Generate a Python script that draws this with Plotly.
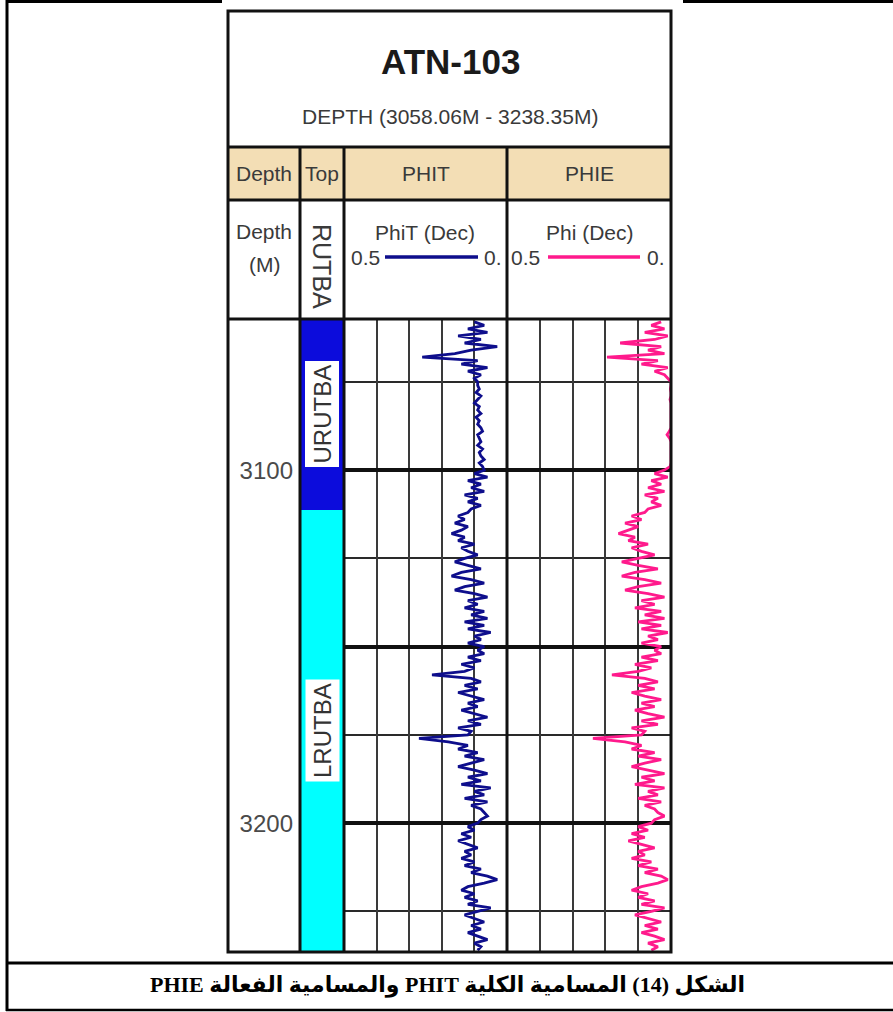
import plotly.graph_objects as go

W, H = 893, 1012


def px(x):
    return x / W


def py(y):
    return 1 - y / H


# ---------------- data ----------------
depth = [
    3058, 3059, 3060, 3061, 3062, 3063, 3064, 3065, 3066, 3067,
    3068, 3069, 3070, 3071, 3072, 3073, 3074, 3075, 3076, 3077,
    3078, 3079, 3080, 3081, 3082, 3083, 3084, 3085, 3086, 3087,
    3088, 3089, 3090, 3091, 3092, 3093, 3094, 3095, 3096, 3097,
    3098, 3099, 3100, 3101, 3102, 3103, 3104, 3105, 3106, 3107,
    3108, 3109, 3110, 3111, 3112, 3113, 3114, 3115, 3116, 3117,
    3118, 3119, 3120, 3121, 3122, 3123, 3124, 3125, 3126, 3127,
    3128, 3129, 3130, 3131, 3132, 3133, 3134, 3135, 3136, 3137,
    3138, 3139, 3140, 3141, 3142, 3143, 3144, 3145, 3146, 3147,
    3148, 3149, 3150, 3151, 3152, 3153, 3154, 3155, 3156, 3157,
    3158, 3159, 3160, 3161, 3162, 3163, 3164, 3165, 3166, 3167,
    3168, 3169, 3170, 3171, 3172, 3173, 3174, 3175, 3176, 3177,
    3178, 3179, 3180, 3181, 3182, 3183, 3184, 3185, 3186, 3187,
    3188, 3189, 3190, 3191, 3192, 3193, 3194, 3195, 3196, 3197,
    3198, 3199, 3200, 3201, 3202, 3203, 3204, 3205, 3206, 3207,
    3208, 3209, 3210, 3211, 3212, 3213, 3214, 3215, 3216, 3217,
    3218, 3219, 3220, 3221, 3222, 3223, 3224, 3225, 3226, 3227,
    3228, 3229, 3230, 3231, 3232, 3233, 3234, 3235, 3236,
]

phit = [
    # 3058-3075
    0.10, 0.07, 0.12, 0.06, 0.15, 0.08, 0.13, 0.03, 0.11, 0.16,
    0.26, 0.09, 0.14, 0.06, 0.12, 0.08, 0.10, 0.09,
    # 3076-3099
    0.09, 0.085, 0.095, 0.08, 0.09, 0.10, 0.085, 0.09, 0.08, 0.095,
    0.085, 0.09, 0.08, 0.075, 0.09, 0.085, 0.08, 0.09, 0.075, 0.085,
    0.08, 0.07, 0.085, 0.075,
    # 3100-3111
    0.07, 0.10, 0.06, 0.12, 0.08, 0.11, 0.07, 0.13, 0.09, 0.12, 0.08, 0.11,
    # 3112-3125
    0.12, 0.15, 0.13, 0.16, 0.12, 0.14, 0.17, 0.13, 0.15, 0.10, 0.14, 0.12,
    0.09, 0.13,
    # 3126-3140
    0.16, 0.12, 0.08, 0.14, 0.17, 0.11, 0.07, 0.13, 0.16, 0.10, 0.06, 0.12,
    0.09, 0.13, 0.07,
    # 3141-3150
    0.11, 0.06, 0.13, 0.07, 0.12, 0.05, 0.10, 0.08, 0.12, 0.07,
    # 3151-3174
    0.09, 0.07, 0.12, 0.08, 0.14, 0.10, 0.13, 0.23, 0.11, 0.08, 0.13, 0.09,
    0.15, 0.11, 0.07, 0.12, 0.09, 0.14, 0.10, 0.06, 0.12, 0.08, 0.15, 0.11,
    # 3175-3176
    0.12, 0.27,
    # 3177-3199
    0.18, 0.12, 0.15, 0.09, 0.13, 0.07, 0.11, 0.15, 0.10, 0.06, 0.12, 0.08,
    0.14, 0.05, 0.10, 0.07, 0.13, 0.06, 0.11, 0.08, 0.07, 0.06, 0.08,
    # 3200-3236
    0.09, 0.12, 0.10, 0.14, 0.11, 0.15, 0.12, 0.09, 0.13, 0.11, 0.14, 0.10,
    0.13, 0.08, 0.11, 0.06, 0.03, 0.07, 0.12, 0.14, 0.10, 0.13, 0.09, 0.12,
    0.05, 0.09, 0.13, 0.10, 0.07, 0.11, 0.08, 0.12, 0.09, 0.06, 0.10, 0.08,
    0.09,
]

phie = [
    # 3058-3075
    0.03, 0.06, 0.02, 0.08, 0.01, 0.05, 0.155, 0.03, 0.07, 0.02,
    0.195, 0.04, 0.09, 0.01, 0.05, 0.02, 0.01, 0.0,
    # 3076-3099
    0.0, 0.002, 0.0, 0.0, 0.003, 0.0, 0.0, 0.0, 0.002, 0.0,
    0.0, 0.0, 0.0, 0.005, 0.012, 0.004, 0.0, 0.0, 0.0, 0.002,
    0.0, 0.0, 0.0, 0.003,
    # 3100-3111
    0.02, 0.05, 0.01, 0.06, 0.03, 0.07, 0.02, 0.08, 0.04, 0.06, 0.03, 0.07,
    # 3112-3125
    0.08, 0.12, 0.09, 0.14, 0.10, 0.13, 0.16, 0.11, 0.13, 0.07, 0.12, 0.09,
    0.05, 0.10,
    # 3126-3140
    0.15, 0.10, 0.04, 0.11, 0.15, 0.08, 0.03, 0.10, 0.14, 0.07, 0.02, 0.09,
    0.05, 0.11, 0.03,
    # 3141-3150
    0.08, 0.02, 0.10, 0.03, 0.09, 0.01, 0.07, 0.04, 0.09, 0.03,
    # 3151-3174
    0.05, 0.03, 0.09, 0.04, 0.11, 0.06, 0.10, 0.18, 0.08, 0.04, 0.10, 0.05,
    0.12, 0.08, 0.03, 0.09, 0.05, 0.11, 0.07, 0.02, 0.09, 0.04, 0.12, 0.08,
    # 3175-3176
    0.09, 0.238,
    # 3177-3199
    0.14, 0.09, 0.12, 0.05, 0.10, 0.03, 0.08, 0.12, 0.07, 0.02, 0.09, 0.05,
    0.11, 0.02, 0.07, 0.04, 0.10, 0.03, 0.08, 0.05, 0.04, 0.02, 0.05,
    # 3200-3236
    0.06, 0.10, 0.07, 0.12, 0.08, 0.13, 0.09, 0.05, 0.10, 0.08, 0.12, 0.06,
    0.10, 0.04, 0.08, 0.03, 0.01, 0.04, 0.09, 0.12, 0.07, 0.10, 0.05, 0.09,
    0.02, 0.06, 0.11, 0.07, 0.03, 0.08, 0.04, 0.09, 0.05, 0.02, 0.07, 0.04,
    0.06,
]

formation_names = ["URUTBA", "LRUTBA"]
formation_tops = [3057.2, 3111.3]
formation_bases = [3111.3, 3236.5]
formation_colors = ["#0c0cdc", "#00ffff"]

depth_range = [3236.5, 3057.2]
major_depths = [3100, 3150, 3200]
major_labels = ["3100", "", "3200"]
minor_depths = [3075, 3125, 3175, 3225]

well_name = "ATN-103"
depth_title = "DEPTH (3058.06M - 3238.35M)"
caption = "\u202bالشكل (14) المسامية الكلية PHIT والمسامية الفعالة PHIE\u202c"

# ---------------- style ----------------
NARROW = "Liberation Sans Narrow, Arial Narrow, Liberation Sans, Arial, sans-serif"
TXT = "#3a3a3a"
PHIT_COLOR = "#0e0e8c"
PHIE_COLOR = "#ff1a8c"
TAN = "#f3deb5"

# layout geometry (pixels)
BOX_L, BOX_R, BOX_T, BOX_B = 228, 671, 11, 952
ROW1, ROW2, ROW3 = 147, 200, 319
C_TOP, C_PHIT, C_PHIE = 300, 344, 507

fig = go.Figure()

fig.add_trace(go.Scatter(x=phit, y=depth, xaxis="x", yaxis="y", mode="lines",
                         line=dict(color=PHIT_COLOR, width=2.8), showlegend=False))
fig.add_trace(go.Scatter(x=phie, y=depth, xaxis="x2", yaxis="y", mode="lines",
                         line=dict(color=PHIE_COLOR, width=2.8), showlegend=False))
fig.add_trace(go.Bar(
    x=[0.5] * len(formation_names),
    y=[b - t for t, b in zip(formation_tops, formation_bases)],
    base=formation_tops, width=1, xaxis="x3", yaxis="y2",
    marker=dict(color=formation_colors, line=dict(width=0)), showlegend=False))

track_x = dict(range=[0.5, 0], anchor="y", showticklabels=False, ticks="",
               tickmode="linear", tick0=0, dtick=0.1, showgrid=True,
               gridcolor="#3a3a3a", gridwidth=2, zeroline=False, showline=False)

fig.update_layout(
    width=W, height=H, margin=dict(l=0, r=0, t=0, b=0),
    paper_bgcolor="white", plot_bgcolor="white",
    xaxis=dict(domain=[px(C_PHIT), px(C_PHIE)], **track_x),
    xaxis2=dict(domain=[px(C_PHIE), px(BOX_R)], **track_x),
    xaxis3=dict(domain=[px(C_TOP), px(C_PHIT)], range=[0, 1], anchor="y2",
                visible=False),
    yaxis=dict(domain=[py(BOX_B), py(ROW3)], range=depth_range, anchor="free",
               position=px(C_TOP), side="left", tickmode="array",
               tickvals=major_depths, ticktext=major_labels, ticks="",
               ticklabelstandoff=7,
               tickfont=dict(family=NARROW, size=24, color="#4a4a4a"),
               showgrid=True, gridcolor="#111111", gridwidth=4,
               zeroline=False, showline=False,
               minor=dict(tickvals=minor_depths, showgrid=True,
                          gridcolor="#2a2a2a", gridwidth=2, ticks="")),
    yaxis2=dict(domain=[py(BOX_B), py(ROW3)], range=depth_range, anchor="x3",
                visible=False, showgrid=False),
    bargap=0,
)

shapes = []


def hline(y, x0, x1, w=3, color="#111111"):
    shapes.append(dict(type="line", xref="paper", yref="paper", x0=px(x0), x1=px(x1),
                       y0=py(y), y1=py(y), line=dict(color=color, width=w), layer="above"))


def vline(x, y0, y1, w=3, color="#111111"):
    shapes.append(dict(type="line", xref="paper", yref="paper", x0=px(x), x1=px(x),
                       y0=py(y0), y1=py(y1), line=dict(color=color, width=w), layer="above"))


# tan header row
shapes.append(dict(type="rect", xref="paper", yref="paper", x0=px(BOX_L), x1=px(BOX_R),
                   y0=py(ROW2), y1=py(ROW1), fillcolor=TAN, line=dict(width=0), layer="below"))
# log frame
shapes.append(dict(type="rect", xref="paper", yref="paper", x0=px(BOX_L), x1=px(BOX_R),
                   y0=py(BOX_B), y1=py(BOX_T), line=dict(color="#111111", width=3),
                   layer="above"))
for yy in (ROW1, ROW2, ROW3):
    hline(yy, BOX_L, BOX_R)
for xx in (C_TOP, C_PHIT, C_PHIE):
    vline(xx, ROW1, BOX_B)
# legend sample lines
hline(257, 385, 478, w=3.5, color=PHIT_COLOR)
hline(257, 548, 640, w=3.5, color=PHIE_COLOR)
# page frame
hline(1.5, 6, 222, w=3, color="black")
hline(1.5, 683, 893, w=3, color="black")
vline(7, 0, 1011, w=3, color="black")
hline(963, 6, 893, w=3, color="black")
hline(1010, 6, 893, w=2.5, color="black")

annotations = []


def text(s, x, y, size, color=TXT, family=NARROW, angle=0, **kw):
    annotations.append(dict(text=s, x=px(x), y=py(y), xref="paper", yref="paper",
                            showarrow=False, textangle=angle, xanchor="center",
                            yanchor="middle",
                            font=dict(family=family, size=size, color=color), **kw))


text("<b>" + well_name + "</b>", 450, 62, 35, color="#1a1a1a")
text(depth_title, 450, 116, 21)
text("Depth", 264, 173, 21)
text("Top", 322, 173, 21)
text("PHIT", 426, 173, 21)
text("PHIE", 589, 173, 21)
text("Depth", 264, 231, 21)
text("(M)", 264, 265, 21)
text("RUTBA", 322, 266, 25, angle=90)
text("PhiT (Dec)", 425, 232, 21)
text("0.5", 365, 257, 21)
text("0.", 493, 257, 21)
text("Phi (Dec)", 590, 232, 21)
text("0.5", 525, 257, 21)
text("0.", 656, 257, 21)
text("<b>" + caption + "</b>", 447, 985, 22, color="black",
     family="Liberation Serif, Times New Roman, DejaVu Sans, serif")

for name, t, b in zip(formation_names, formation_tops, formation_bases):
    annotations.append(dict(text=name, x=0.5, y=(t + b) / 2, xref="x3", yref="y2",
                            showarrow=False, textangle=-90, bgcolor="white",
                            borderpad=3,
                            font=dict(family=NARROW, size=24, color="#333333")))

fig.update_layout(shapes=shapes, annotations=annotations)

fig.write_html("out.html")
